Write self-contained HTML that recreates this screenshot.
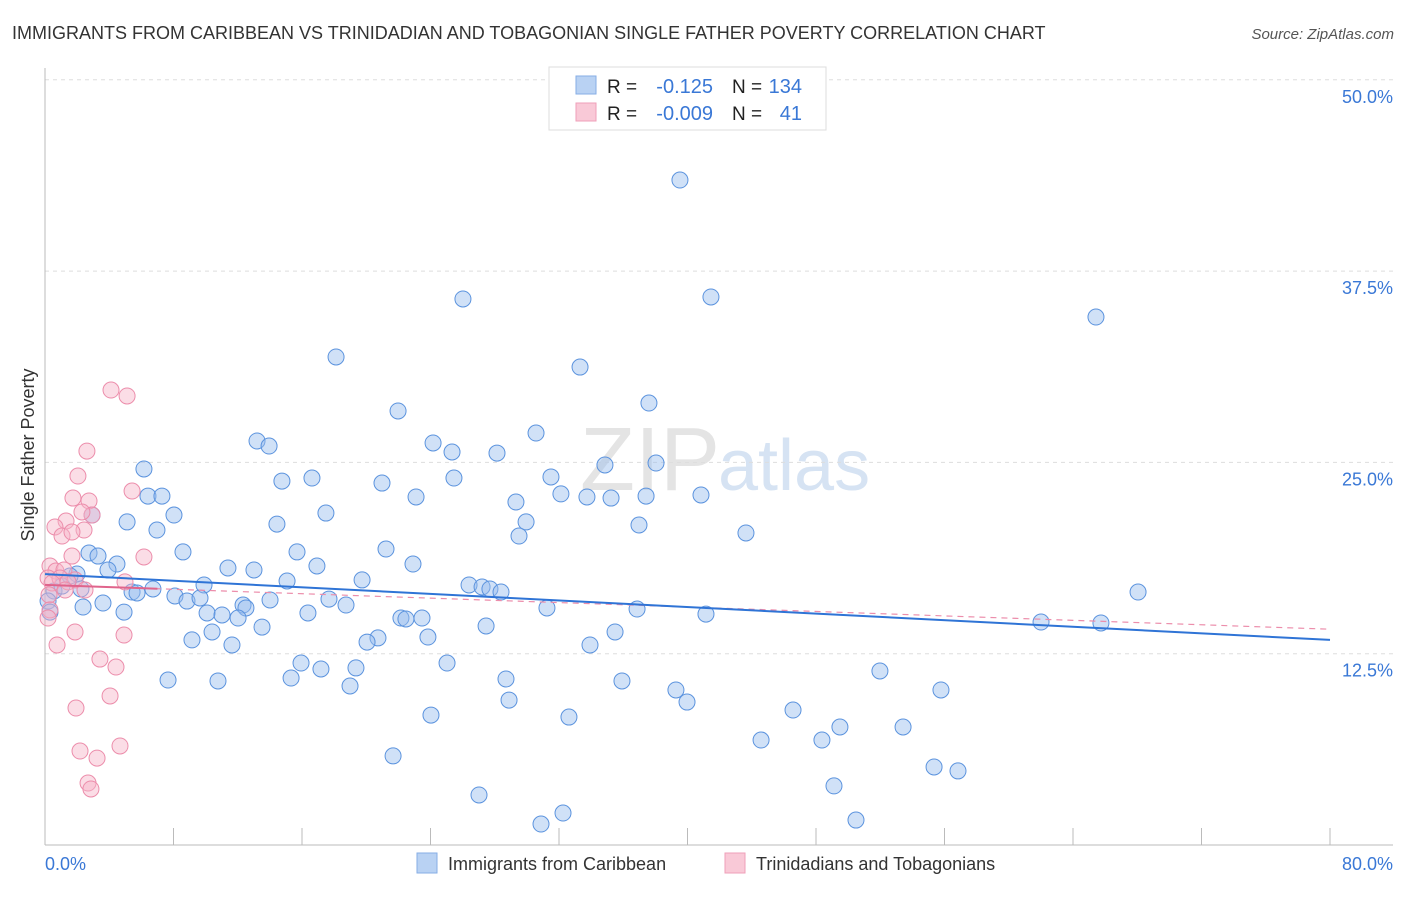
<!DOCTYPE html>
<html><head><meta charset="utf-8"><style>
body{margin:0;background:#fff;font-family:"Liberation Sans",sans-serif;}
svg text{font-family:"Liberation Sans",sans-serif;}
</style></head><body>
<svg id="c" width="1406" height="892">
<text x="12" y="39" font-size="18" fill="#333">IMMIGRANTS FROM CARIBBEAN VS TRINIDADIAN AND TOBAGONIAN SINGLE FATHER POVERTY CORRELATION CHART</text>
<text x="1394" y="39" font-size="15" fill="#555" font-style="italic" text-anchor="end">Source: ZipAtlas.com</text>
<text x="720" y="490" font-size="90" fill="#e4e4e4" text-anchor="end" font-family="Liberation Serif">ZIP</text>
<text x="718" y="490" font-size="72" fill="#d6e3f3">atlas</text>
<g id="grid"></g><g id="pts"></g><g id="trend"></g>
<text x="34" y="455" font-size="18" fill="#333" transform="rotate(-90 34 455)" text-anchor="middle">Single Father Poverty</text>
<text x="45" y="870" font-size="18" fill="#3a78d6">0.0%</text>
<text x="1393" y="870" font-size="18" fill="#3a78d6" text-anchor="end">80.0%</text>
<g>
<rect x="549" y="67" width="277" height="63" fill="#fff" stroke="#ddd"/>
<rect x="576" y="76" width="20" height="18" fill="#b9d2f3" stroke="#86aee6"/>
<rect x="576" y="103" width="20" height="18" fill="#f9c9d7" stroke="#ef9fb8"/>
<text x="607" y="93" font-size="19" fill="#222">R =</text><text x="713" y="93" font-size="20" fill="#3a78d6" text-anchor="end">-0.125</text>
<text x="732" y="93" font-size="19" fill="#222">N =</text><text x="802" y="93" font-size="20" fill="#3a78d6" text-anchor="end">134</text>
<text x="607" y="120" font-size="19" fill="#222">R =</text><text x="713" y="120" font-size="20" fill="#3a78d6" text-anchor="end">-0.009</text>
<text x="732" y="120" font-size="19" fill="#222">N =</text><text x="802" y="120" font-size="20" fill="#3a78d6" text-anchor="end">41</text>
</g>
<g>
<rect x="417" y="853" width="20" height="20" fill="#b9d2f3" stroke="#86aee6"/>
<text x="448" y="870" font-size="18" fill="#333">Immigrants from Caribbean</text>
<rect x="725" y="853" width="20" height="20" fill="#f9c9d7" stroke="#ef9fb8"/>
<text x="756" y="870" font-size="18" fill="#333">Trinidadians and Tobagonians</text>
</g>
</svg>
<script>
const yTicks=[12.5,25,37.5,50];
const yTickLabels=["12.5%","25.0%","37.5%","50.0%"];
const xTicks=[0,8,16,24,32,40,48,56,64,72,80];
const bluePx=[[680,180],[463,299],[711,297],[1096,317],[336,357],[580,367],[649,403],[398,411],[536,433],[433,443],[452,452],[257,441],[269,446],[497,453],[605,465],[656,463],[144,469],[454,478],[551,477],[282,481],[312,478],[382,483],[148,496],[162,496],[416,497],[561,494],[587,497],[611,498],[646,496],[701,495],[516,502],[326,513],[174,515],[92,515],[127,522],[277,524],[526,522],[157,530],[639,525],[519,536],[746,533],[386,549],[183,552],[297,552],[89,553],[98,556],[117,564],[108,570],[228,568],[254,570],[413,564],[317,566],[77,574],[70,576],[287,581],[362,580],[469,585],[482,587],[490,589],[501,592],[204,585],[132,592],[153,589],[137,593],[1138,592],[54,591],[62,586],[81,589],[175,596],[187,601],[200,598],[329,599],[346,605],[243,605],[246,608],[270,600],[103,603],[83,607],[124,612],[207,613],[222,615],[238,618],[308,613],[547,608],[637,609],[706,614],[401,618],[422,618],[406,619],[486,626],[262,627],[212,632],[615,632],[428,637],[378,638],[192,640],[367,642],[1041,622],[1101,623],[232,645],[590,645],[301,663],[447,663],[356,668],[321,669],[880,671],[168,680],[218,681],[291,678],[506,679],[622,681],[350,686],[676,690],[941,690],[509,700],[687,702],[431,715],[569,717],[793,710],[840,727],[903,727],[761,740],[822,740],[393,756],[934,767],[958,771],[834,786],[479,795],[563,813],[541,824],[856,820],[48,601],[50,612]];
const pinkPx=[[111,390],[127,396],[87,451],[78,476],[132,491],[73,498],[89,501],[92,515],[82,512],[66,521],[55,527],[62,536],[84,530],[72,532],[144,557],[72,556],[50,566],[56,571],[64,570],[48,578],[60,578],[75,580],[68,582],[125,582],[52,583],[65,590],[85,590],[49,595],[50,610],[48,618],[75,632],[124,635],[57,645],[100,659],[116,667],[110,696],[76,708],[80,751],[120,746],[97,758],[88,783],[91,789]];
// data values (x %, y %)
const blueX=bluePx.map(p=>+((p[0]-45)*80/1285).toFixed(2)), blueY=bluePx.map(p=>+((845-p[1])*12.5/191.3).toFixed(2));
const pinkX=pinkPx.map(p=>+((p[0]-45)*80/1285).toFixed(2)), pinkY=pinkPx.map(p=>+((845-p[1])*12.5/191.3).toFixed(2));
const blueTrend=[17.7,13.4], pinkTrend=[17.0,14.1];
const NS="http://www.w3.org/2000/svg";
const X=v=>45+v/80*1285, Y=v=>845-v/12.5*191.3;
function mk(t,a,parent){const e=document.createElementNS(NS,t);for(const k in a)e.setAttribute(k,a[k]);document.getElementById(parent).appendChild(e);return e;}
const g='grid';
yTicks.forEach((t,i)=>{
 const l=mk('line',{x1:45,x2:1393,y1:Y(t),y2:Y(t),stroke:'#ddd','stroke-dasharray':'4,4'},g);
 
 
 const tx=mk('text',{x:1393,y:Y(t)+23,'font-size':18,fill:'#3a78d6','text-anchor':'end'},g);tx.textContent=yTickLabels[i];
 
 
});
const ax=mk('line',{x1:45,x2:1393,y1:845,y2:845,stroke:'#bbb'},g);


const ay=mk('line',{x1:45,x2:45,y1:68,y2:845,stroke:'#bbb'},g);


xTicks.forEach(t=>{const l=mk('line',{x1:X(t),x2:X(t),y1:828,y2:845,stroke:'#bbb'},g);
 
 });
blueX.forEach((x,i)=>{const c=mk('circle',{cx:X(x),cy:Y(blueY[i]),r:8,fill:'rgba(150,188,238,0.45)',stroke:'#5b93de','stroke-width':1},'pts');
 
 });
pinkX.forEach((x,i)=>{const c=mk('circle',{cx:X(x),cy:Y(pinkY[i]),r:8,fill:'rgba(247,180,200,0.45)',stroke:'#ec8dab','stroke-width':1},'pts');
 
 });
const pd=mk('line',{x1:X(0),y1:Y(pinkTrend[0]),x2:X(80),y2:Y(pinkTrend[1]),stroke:'#ec8dab','stroke-width':1.2,'stroke-dasharray':'6,5'},'trend');


const ps=mk('line',{x1:X(0),y1:Y(pinkTrend[0]),x2:X(7),y2:Y(pinkTrend[0]+(pinkTrend[1]-pinkTrend[0])*7/80),stroke:'#e0648c','stroke-width':2},'trend');


const bt=mk('line',{x1:X(0),y1:Y(blueTrend[0]),x2:X(80),y2:Y(blueTrend[1]),stroke:'#2f74d6','stroke-width':2},'trend');


</script>
</body></html>
